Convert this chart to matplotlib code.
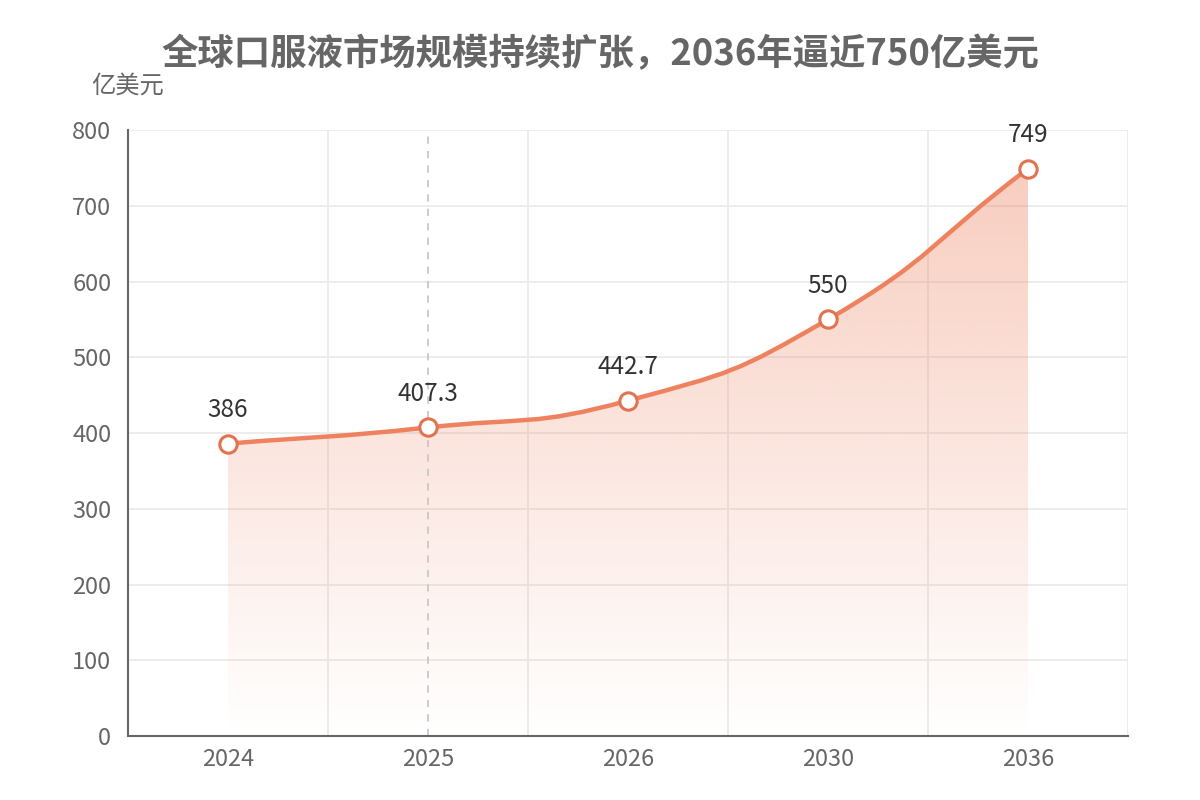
import numpy as np
import matplotlib
matplotlib.use("Agg")
import matplotlib.pyplot as plt
from matplotlib.path import Path
from matplotlib.patches import PathPatch

plt.rcParams['font.family'] = ['Noto Sans CJK SC', 'DejaVu Sans']

categories = ['2024', '2025', '2026', '2030', '2036']
values = [386, 407.3, 442.7, 550, 749]
value_labels = ['386', '407.3', '442.7', '550', '749']
yticks = [0, 100, 200, 300, 400, 500, 600, 700, 800]
title = '全球口服液市场规模持续扩张，2036年逼近750亿美元'
y_name = '亿美元'
highlight = '2025'

LINE = '#EE825F'
EDGE = '#E07350'

fig = plt.figure(figsize=(12, 8), dpi=100)
ax = fig.add_axes([128/1200, 64/800, 1000/1200, 606/800])
ax.set_xlim(-0.5, len(categories) - 0.5)
ax.set_ylim(0, 800)

# grid
for xv in np.arange(0.5, len(categories), 1.0):
    ax.axvline(xv, color='#ebebeb', lw=1.3, zorder=0)
for yv in yticks[1:]:
    ax.axhline(yv, color='#ebebeb', lw=1.3, zorder=0)

# smooth path (ECharts style bezier, smooth=0.5) in pixel-like space
sx, sy = 200.0, 606.0 / 800.0
xs = np.arange(len(values), dtype=float)
P = np.column_stack([xs * sx, np.array(values) * sy])
smooth = 0.5
n = len(P)
cps_in = []
cps_out = []
for i in range(n):
    prev = P[i - 1] if i > 0 else P[i]
    nxt = P[i + 1] if i < n - 1 else P[i]
    v = nxt - prev
    d0 = np.hypot(*(P[i] - prev))
    d1 = np.hypot(*(nxt - P[i]))
    r = d1 / (d0 + d1) if (d0 + d1) > 0 else 0.5
    cps_in.append(P[i] - v * smooth * (1 - r))
    cps_out.append(P[i] + v * smooth * r)
verts = [P[0]]
codes = [Path.MOVETO]
for i in range(n - 1):
    verts += [cps_out[i], cps_in[i + 1], P[i + 1]]
    codes += [Path.CURVE4] * 3
verts = np.array(verts) / np.array([sx, sy])
line_path = Path(verts, codes)

# area fill with gradient
area_verts = np.vstack([verts, [[xs[-1], 0], [xs[0], 0], verts[0]]])
area_codes = codes + [Path.LINETO, Path.LINETO, Path.CLOSEPOLY]
area_path = Path(area_verts, area_codes)
patch = PathPatch(area_path, facecolor='none', edgecolor='none')
ax.add_patch(patch)
grad = np.zeros((256, 2, 4))
rgb = matplotlib.colors.to_rgb(LINE)
grad[..., 0], grad[..., 1], grad[..., 2] = rgb
alpha = np.linspace(0.0, 0.4, 256)[:, None]
grad[..., 3] = alpha
im = ax.imshow(grad, extent=[xs[0], xs[-1], 0, max(values)], origin='lower',
               aspect='auto', zorder=1, interpolation='bilinear')
im.set_clip_path(patch)

ax.add_patch(PathPatch(line_path, facecolor='none', edgecolor=LINE, lw=3.2,
                       capstyle='round', joinstyle='round', zorder=3))

# highlight dashed line
hi = categories.index(highlight)
ax.axvline(hi, color='#c8c8c8', lw=1.3, ls=(0, (4, 4)), zorder=2)

ax.plot(xs, values, ls='none', marker='o', ms=12.5, mfc='white', mec=EDGE,
        mew=2.2, zorder=4)

for x, v, lab in zip(xs, values, value_labels):
    ax.annotate(lab, (x, v), xytext=(0, 24), textcoords='offset points',
                ha='center', va='center', fontsize=17.5, color='#333333', zorder=5)

ax.set_xticks(xs)
ax.set_xticklabels(categories)
ax.set_yticks(yticks)
ax.tick_params(axis='both', length=0, labelsize=17, colors='#666666')
ax.tick_params(axis='y', pad=12)
ax.tick_params(axis='x', pad=9)
for s in ['top', 'right']:
    ax.spines[s].set_visible(False)
for s in ['left', 'bottom']:
    ax.spines[s].set_color('#666666')
    ax.spines[s].set_linewidth(1.5)

fig.text(0.5, 1 - 55/800, title, ha='center', va='center', fontsize=26.2,
         fontweight='bold', color='#666666')
fig.text(128/1200, 1 - 86/800, y_name, ha='center', va='center', fontsize=17.5,
         color='#666666')

fig.savefig('out.png', dpi=100, facecolor='white')
